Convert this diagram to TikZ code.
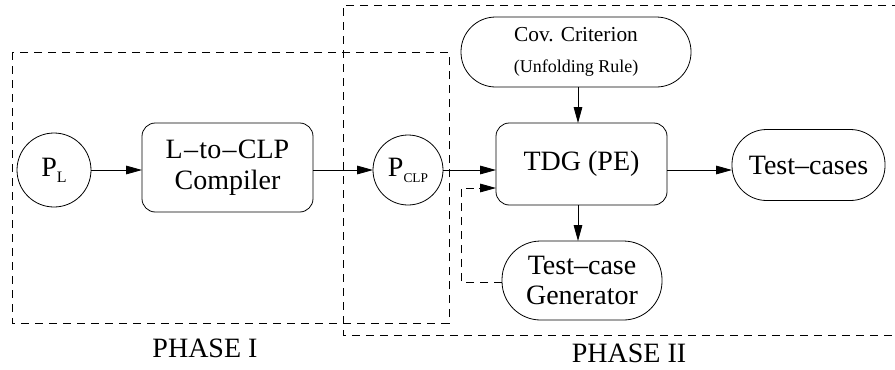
\documentclass[tikz,border=0pt]{standalone}
\usepackage{fontspec}
\setmainfont{Liberation Serif}
\newfontfamily\tnr{Liberation Serif}
\usetikzlibrary{arrows.meta,calc}
\begin{document}
\begin{tikzpicture}[x=0.75pt,y=-0.75pt,
  every node/.style={inner sep=0pt,outer sep=0pt,align=center,font=\tnr\fontsize{21}{23}\selectfont},
  lw/.style={line width=0.6pt},
  circ/.style={lw,draw,circle},
  rbox/.style={lw,draw,rectangle,rounded corners=10pt},
  arr/.style={lw,-{Triangle[length=12pt,width=6.5pt]}},
  dsh/.style={lw,dash pattern=on 6pt off 4.5pt},
  lbl/.style={font=\tnr\fontsize{21}{23}\selectfont}]
\useasboundingbox (0,0) rectangle (895,369);
% phase boxes
\draw[dsh] (12,52) rectangle (449,323);
\draw[dsh] (900,5) -- (343,5) -- (343,335) -- (900,335);
\node[lbl] (ph1) at (205,348) {PHASE I};
\node[lbl] (ph2) at (629,353) {PHASE II};
% nodes
\node[circ,minimum size=55.5pt] (PL) at (54,170) {P\raisebox{-0.45ex}{\fontsize{12}{12}\selectfont L}};
\node[rbox,minimum width=128.25pt,minimum height=66.75pt] (comp) at (227.5,167.5) {L\kern1pt–\kern1pt to\kern1pt–\kern1pt CLP\\Compiler};
\node[circ,minimum size=52.5pt] (PCLP) at (408,170) {P\raisebox{-0.45ex}{\fontsize{10}{10}\selectfont CLP}};
\node[rbox,minimum width=128.25pt,minimum height=61.5pt] (TDG) at (581.5,164) {TDG (PE)};
\node[rbox,rounded corners=26pt,minimum width=172.5pt,minimum height=52.5pt] (cov) at (576,52)
  {{\fontsize{16}{18}\selectfont Cov. Criterion}\\[0pt]{\fontsize{13.5}{15}\selectfont (Unfolding Rule)}};
\node[rbox,rounded corners=29pt,minimum width=120pt,minimum height=59.25pt] (gen) at (582,280.5) {Test–case\\Generator};
\node[rbox,rounded corners=26pt,minimum width=114.75pt,minimum height=53.25pt] (tc) at (808.5,165) {Test–cases};
% connectors
\draw[arr] (PL) -- (comp.west |- PL);
\draw[arr] (comp.east |- PL) -- (PCLP);
\draw[arr] (PCLP) -- (TDG.west |- PCLP);
\draw[arr] (TDG.east |- PCLP) -- (tc.west |- PCLP);
\draw[arr] (cov.south -| 578,0) -- (TDG.north -| 578,0);
\draw[arr] (TDG.south -| 578,0) -- (gen.north -| 578,0);
\coordinate (fb1) at (461,282);
\coordinate (fb2) at (461,188);
\draw[dsh] (gen.west |- fb1) -- (fb1) -- (fb2) -- ($(TDG.west |- fb2)+(-17,0)$);
\draw[arr] ($(TDG.west |- fb2)+(-17,0)$) -- (TDG.west |- fb2);
\end{tikzpicture}
\end{document}
